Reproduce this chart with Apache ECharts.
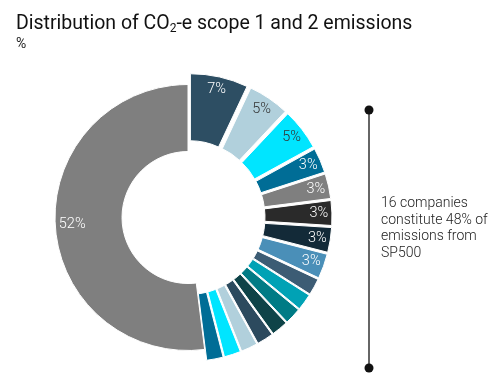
<!DOCTYPE html>
<html>
<head>
<meta charset="utf-8">
<script src="https://cdn.jsdelivr.net/npm/echarts@6/dist/echarts.min.js"></script>
<style>html,body{margin:0;padding:0;background:#fff;}#c{width:500px;height:388px;}</style>
</head>
<body>
<div id="c"></div>
<script>
const categories = ['C1','C2','C3','C4','C5','C6','C7','C8','C9','C10','C11','C12','C13','C14','C15','C16','Rest of SP500'];
const values = [7,5,5,3,3,3,3,3,2,2,2,2,2,2,2,2,52];
const colors = ['#2d4e63','#b1d0dc','#00e5ff','#006d96','#7f7f7f','#2a2a2a','#132a38','#4a8fb8',
                '#3c5c74','#00a2b5','#007b85','#0e4348','#2c4a5e','#b1d0dc','#00e5ff','#006d96','#7f7f7f'];
const labelColors = ['#fff','#333','#333','#fff','#fff','#fff','#fff','#fff'];
const labelledCount = 8;
const annotationLines = ['16 companies', 'constitute 48% of', 'emissions from', 'SP500'];

const center = [188, 217.5];
const FONT = 'Roboto, "Noto Sans", sans-serif';

const mainData = categories.map((n, i) => ({
  name: n, value: values[i],
  selected: i < categories.length - 1,
  itemStyle: { color: colors[i] }
}));

const compLabelData = categories.map((n, i) => ({
  name: n, value: values[i],
  label: i < labelledCount ? { show: true, color: labelColors[i] } : { show: false }
}));
const restLabelData = categories.map((n, i) => ({
  name: n, value: values[i],
  label: i === categories.length - 1 ? { show: true, color: '#fff' } : { show: false }
}));

const chart = echarts.init(document.getElementById('c'));
chart.setOption({
  backgroundColor: '#fff',
  animation: false,
  title: [{
    left: 11, top: 7,
    text: '{a|Distribution of CO}{s|2}{a|-e scope 1 and 2 emissions}',
    textStyle: {
      fontWeight: 'normal',
      rich: {
        a: { fontFamily: FONT, fontSize: 19.5, fontWeight: 'normal', color: '#111', lineHeight: 24 },
        s: { fontFamily: FONT, fontSize: 12, fontWeight: 'normal', color: '#111', lineHeight: 24, padding: [10, 0, 0, 0] }
      }
    }
  }, {
    left: 11, top: 32,
    text: '%',
    textStyle: { fontFamily: FONT, fontSize: 14, fontWeight: 'normal', color: '#222' }
  }],
  series: [{
    type: 'pie',
    silent: true,
    z: 2,
    center: center,
    radius: [66, 133],
    startAngle: 90,
    clockwise: true,
    selectedMode: 'multiple',
    selectedOffset: 11,
    label: { show: false },
    labelLine: { show: false },
    itemStyle: { borderColor: '#fff', borderWidth: 1 },
    select: { itemStyle: { borderColor: '#fff', borderWidth: 1 } },
    data: mainData
  }, {
    type: 'pie',
    silent: true,
    z: 5,
    center: center,
    radius: [116, 140],
    startAngle: 90,
    clockwise: true,
    itemStyle: { color: 'rgba(0,0,0,0)' },
    label: { position: 'inside', formatter: '{c}%', fontFamily: FONT, fontSize: 14.5, fontWeight: 300 },
    labelLine: { show: false },
    data: compLabelData
  }, {
    type: 'pie',
    silent: true,
    z: 5,
    center: center,
    radius: [97, 129],
    startAngle: 90,
    clockwise: true,
    itemStyle: { color: 'rgba(0,0,0,0)' },
    label: { position: 'inside', formatter: '{c}%', fontFamily: FONT, fontSize: 14.5, fontWeight: 300 },
    labelLine: { show: false },
    data: restLabelData
  }],
  graphic: [
    { type: 'line', shape: { x1: 369, y1: 110, x2: 369, y2: 368 }, style: { stroke: '#333', lineWidth: 1.5 } },
    { type: 'circle', shape: { cx: 369, cy: 110, r: 4.5 }, style: { fill: '#111' } },
    { type: 'circle', shape: { cx: 369, cy: 368, r: 4.5 }, style: { fill: '#111' } },
    { type: 'text', left: 381, top: 195,
      style: { text: annotationLines.join('\n'), fontFamily: FONT, fontSize: 14, fontWeight: 300, lineHeight: 16.7, fill: '#222' } }
  ]
});
</script>
</body>
</html>
